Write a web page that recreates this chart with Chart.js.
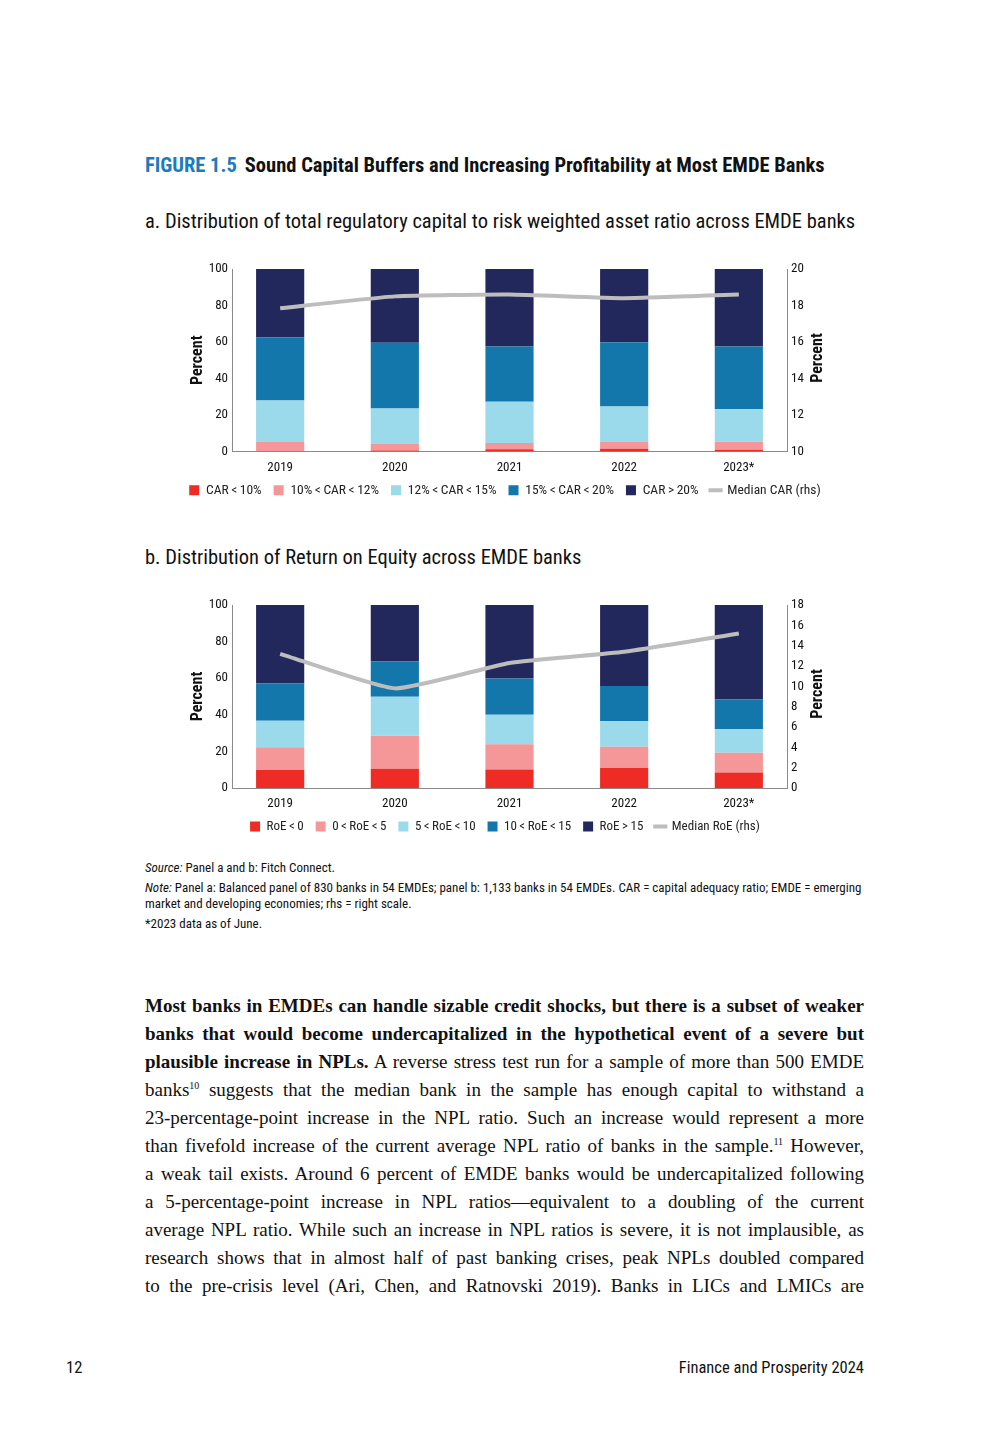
<!DOCTYPE html>
<html>
<head>
<meta charset="utf-8">
<script src="https://cdn.jsdelivr.net/npm/chart.js@4.4.0/dist/chart.umd.min.js"></script>
<style>
  html, body { margin: 0; padding: 0; background: #fff; }
  body { width: 1008px; height: 1440px; position: relative; overflow: hidden;
    font-family: "Roboto Condensed", "DejaVu Sans Condensed", sans-serif; color: #111; }
  .abs { position: absolute; white-space: nowrap; }
  .title { left: 145px; top: 153px; font-size: 20.5px; line-height: 24px; font-weight: bold; }
  .title .fig { color: #1b7bbf; margin-right: 8px; }
  .sub { left: 145px; font-size: 20.5px; line-height: 24px; }
  .box { position: absolute; left: 160px; width: 690px; height: 252px; }
  .rlab { position: absolute; width: 80px; height: 18px; line-height: 18px; text-align: center;
    font-size: 16px; font-weight: bold; transform: rotate(-90deg); }
  .notes { left: 145px; top: 860px; font-size: 13px; line-height: 16px; }
  .notes p { margin: 0 0 4px 0; }
  .body { position: absolute; left: 145px; top: 992px; width: 719px;
    font-family: "Liberation Serif", "DejaVu Serif", serif; font-size: 19px; line-height: 28px; }
  .body div { text-align: justify; text-align-last: justify; white-space: nowrap; }
  .body sup { font-size: 10px; line-height: 0; }
  .foot { top: 1358px; font-size: 16.5px; line-height: 20px; }
</style>
</head>
<body>
<div class="abs title"><span class="fig">FIGURE 1.5</span>Sound Capital Buffers and Increasing Profitability at Most EMDE Banks</div>
<div class="abs sub" style="top:209px">a. Distribution of total regulatory capital to risk weighted asset ratio across EMDE banks</div>
<div class="box" style="top:255px"><canvas id="chartA"></canvas></div>
<div class="rlab" style="left:777px; top:349px">Percent</div>
<div class="abs sub" style="top:545px">b. Distribution of Return on Equity across EMDE banks</div>
<div class="box" style="top:591px"><canvas id="chartB"></canvas></div>
<div class="rlab" style="left:777px; top:685px">Percent</div>

<div class="abs notes">
  <p><i>Source:</i> Panel a and b: Fitch Connect.</p>
  <p><i>Note:</i> Panel a: Balanced panel of 830 banks in 54 EMDEs; panel b: 1,133 banks in 54 EMDEs. CAR = capital adequacy ratio; EMDE = emerging<br>market and developing economies; rhs = right scale.</p>
  <p>*2023 data as of June.</p>
</div>

<div class="body">
  <div><b>Most banks in EMDEs can handle sizable credit shocks, but there is a subset of weaker</b></div>
  <div><b>banks that would become undercapitalized in the hypothetical event of a severe but</b></div>
  <div><b>plausible increase in NPLs.</b> A reverse stress test run for a sample of more than 500 EMDE</div>
  <div>banks<sup>10</sup> suggests that the median bank in the sample has enough capital to withstand a</div>
  <div>23-percentage-point increase in the NPL ratio. Such an increase would represent a more</div>
  <div>than fivefold increase of the current average NPL ratio of banks in the sample.<sup>11</sup> However,</div>
  <div>a weak tail exists. Around 6 percent of EMDE banks would be undercapitalized following</div>
  <div>a 5-percentage-point increase in NPL ratios—equivalent to a doubling of the current</div>
  <div>average NPL ratio. While such an increase in NPL ratios is severe, it is not implausible, as</div>
  <div>research shows that in almost half of past banking crises, peak NPLs doubled compared</div>
  <div>to the pre-crisis level (Ari, Chen, and Ratnovski 2019). Banks in LICs and LMICs are</div>
</div>

<div class="abs foot" style="left:66px">12</div>
<div class="abs foot" style="right:144px">Finance and Prosperity 2024</div>

<script>
const years = ["2019", "2020", "2021", "2022", "2023*"];

// panel a: share of banks by CAR bucket (percent), median CAR on rhs
const carLabels = ["CAR\u2009<\u200910%", "10%\u2009<\u2009CAR\u2009<\u200912%", "12%\u2009<\u2009CAR\u2009<\u200915%", "15%\u2009<\u2009CAR\u2009<\u200920%", "CAR\u2009>\u200920%"];
const carBelow10 = [0.2, 0.5, 1.3, 1.5, 0.9];
const car10to12 = [5.0, 3.6, 3.3, 4.0, 4.5];
const car12to15 = [22.8, 19.5, 22.7, 19.2, 17.7];
const car15to20 = [34.4, 36.0, 30.3, 35.1, 34.5];
const carAbove20 = [37.6, 40.4, 42.4, 40.2, 42.4];
const medianCar = [17.85, 18.5, 18.6, 18.4, 18.6];

// panel b: share of banks by RoE bucket (percent), median RoE on rhs
const roeLabels = ["RoE\u2009<\u20090", "0\u2009<\u2009RoE\u2009<\u20095", "5\u2009<\u2009RoE\u2009<\u200910", "10\u2009<\u2009RoE\u2009<\u200915", "RoE\u2009>\u200915"];
const roeBelow0 = [9.9, 10.5, 10.1, 10.9, 8.5];
const roe0to5 = [12.4, 18.0, 13.8, 11.6, 10.8];
const roe5to10 = [14.5, 21.4, 16.1, 14.0, 12.9];
const roe10to15 = [20.5, 19.2, 19.9, 19.3, 16.2];
const roeAbove15 = [42.7, 30.9, 40.1, 44.2, 51.6];
const medianRoe = [13.2, 9.8, 12.3, 13.4, 15.2];

const colors = ["#ee2b24", "#f59798", "#9bdaea", "#1477ab", "#22285c"];
const lineColor = "#bdbdbd";
const font = "'Roboto Condensed', 'DejaVu Sans Condensed', sans-serif";
const axisColor = "#8a8a8a";

const pts = (vals) => vals.map((v, i) => ({ x: i, y: v }));

function makeChart(id, bucketLabels, buckets, lineLabel, lineData, rMin, rMax, rStep, legendSize) {
	const datasets = [
		{
			type: "line",
			label: lineLabel,
			data: pts(lineData),
			yAxisID: "y1",
			borderColor: lineColor,
			backgroundColor: lineColor,
			borderWidth: 4,
			pointRadius: 0,
			tension: 0.15,
		},
	];
	buckets.forEach((vals, i) => {
		datasets.push({
			type: "bar",
			label: bucketLabels[i],
			data: pts(vals),
			yAxisID: "y",
			backgroundColor: colors[i],
			borderWidth: 0,
			barPercentage: 0.42,
			categoryPercentage: 1,
		});
	});

	return new Chart(document.getElementById(id), {
		data: { datasets: datasets },
		options: {
			responsive: true,
			maintainAspectRatio: false,
			animation: false,
			layout: { padding: { top: 14, bottom: 0 } },
			plugins: {
				tooltip: { enabled: false },
				legend: {
					position: "bottom",
					labels: {
						usePointStyle: true,
						boxWidth: 10,
						boxHeight: 10,
						padding: 12,
						color: "#222",
						font: { family: font, size: legendSize },
						generateLabels: (chart) => {
							const items = Chart.defaults.plugins.legend.labels.generateLabels(chart);
							items.forEach((it) => {
								it.pointStyle = it.datasetIndex === 0 ? "line" : "rect";
							});
							// median line goes last in the legend
							return items.slice(1).concat(items.slice(0, 1));
						},
					},
				},
			},
			scales: {
				x: {
					type: "linear",
					min: -0.42,
					max: 4.42,
					offset: false,
					stacked: true,
					grid: { display: false, drawTicks: false, offset: false },
					border: { display: true, color: axisColor },
					afterBuildTicks: (s) => { s.ticks = years.map((y, i) => ({ value: i })); },
					ticks: { color: "#111", font: { family: font, size: 13 }, padding: 8, callback: (v) => years[v] },
					afterFit: (s) => { s.height = 20; },
				},
				y: {
					stacked: true,
					min: 0,
					max: 100,
					grid: { display: false, drawTicks: false },
					border: { display: true, color: axisColor },
					ticks: { stepSize: 20, color: "#111", font: { family: font, size: 13 }, padding: 4 },
					title: { display: true, text: "Percent", color: "#111", font: { family: font, size: 16, weight: "bold" }, padding: { top: 28, bottom: 0 } },
					afterFit: (s) => { s.width = 72; },
				},
				y1: {
					position: "right",
					min: rMin,
					max: rMax,
					grid: { display: false, drawTicks: false },
					border: { display: true, color: axisColor },
					ticks: { stepSize: rStep, color: "#111", font: { family: font, size: 13 }, padding: 4 },
					afterFit: (s) => { s.width = 63; },
				},
			},
		},
	});
}

makeChart("chartA", carLabels, [carBelow10, car10to12, car12to15, car15to20, carAbove20], "Median CAR (rhs)", medianCar, 10, 20, 2, 13.5);
makeChart("chartB", roeLabels, [roeBelow0, roe0to5, roe5to10, roe10to15, roeAbove15], "Median RoE (rhs)", medianRoe, 0, 18, 2, 13);
</script>
</body>
</html>
